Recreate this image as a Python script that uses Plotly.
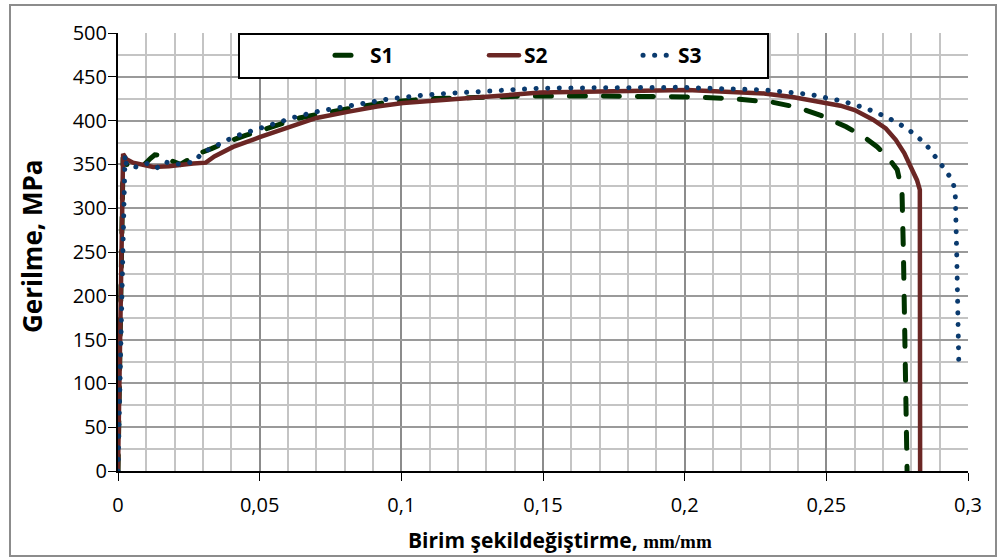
import plotly.graph_objects as go

# Stress-strain data for three tensile specimens (strain in mm/mm, stress in MPa)
s1_strain = [0, 0.0018, 0.003, 0.009, 0.0115, 0.013, 0.017, 0.019, 0.022, 0.025,
             0.029, 0.033, 0.038, 0.045, 0.049, 0.064, 0.082, 0.095, 0.11, 0.13, 0.143,
             0.17, 0.187, 0.203, 0.217, 0.231, 0.24, 0.248, 0.257, 0.263, 0.268,
             0.272, 0.275, 0.2767, 0.2772, 0.2778, 0.2782, 0.2785]
s1_stress = [0, 358, 350, 349, 357, 361, 360, 354, 350, 356,
             363, 368, 375, 383, 387, 403, 414, 421, 425, 427, 428,
             428, 428, 427, 425, 421, 415, 406, 393, 382, 370,
             357, 344, 320, 250, 150, 60, 0]

s2_strain = [0, 0.0018, 0.003, 0.0053, 0.0124, 0.018, 0.0265, 0.031, 0.034, 0.0406,
             0.05, 0.0607, 0.07, 0.081, 0.0914, 0.1006, 0.116, 0.149, 0.2008, 0.228,
             0.238, 0.245, 0.25, 0.255, 0.26, 0.2665, 0.271, 0.2745, 0.2775, 0.28,
             0.282, 0.283, 0.2831]
s2_stress = [0, 362, 356, 352, 347, 348, 351, 352, 359, 370,
             381, 393, 403, 410, 416, 420, 424, 432, 435, 431,
             427, 423, 421, 417, 412, 401, 391, 378, 363, 347,
             332, 321, 0]

s3_strain = [0, 0.0025, 0.003, 0.0066, 0.0102, 0.0137, 0.0166, 0.0195, 0.023, 0.027,
             0.0296, 0.0335, 0.037, 0.0406, 0.045, 0.0526, 0.0635, 0.0713, 0.0794, 0.0879,
             0.096, 0.1077, 0.116, 0.149, 0.17, 0.198, 0.228, 0.244, 0.256, 0.264,
             0.2714, 0.2785, 0.2849, 0.29, 0.2926, 0.2947, 0.2955, 0.296, 0.2963, 0.2966, 0.2968]
s3_stress = [0, 361, 349, 347, 351, 346, 353, 350, 351, 353,
             363, 369, 374, 381, 386, 394, 405, 411, 416, 421,
             425, 429, 431, 437, 438, 438, 435, 430, 422, 414,
             404, 391, 374, 353, 341, 330, 317, 250, 200, 150, 115]

x_ticks = [0, 0.05, 0.1, 0.15, 0.2, 0.25, 0.3]
x_tick_labels = ["0", "0,05", "0,1", "0,15", "0,2", "0,25", "0,3"]
y_ticks = [0, 50, 100, 150, 200, 250, 300, 350, 400, 450, 500]

x_title = "Birim şekildeğiştirme, <span style=\"font-family:'Liberation Serif';font-size:19px\">mm/mm</span>"
y_title = "Gerilme, MPa"

fig = go.Figure()
fig.add_trace(go.Scatter(x=s1_strain, y=s1_stress, name="S1", mode="lines",
                         line=dict(color="#003300", width=5, dash="16px,18px")))
fig.add_trace(go.Scatter(x=s2_strain, y=s2_stress, name="S2", mode="lines",
                         line=dict(color="#6B2624", width=4.5)))
fig.add_trace(go.Scatter(x=s3_strain, y=s3_stress, name="S3", mode="lines",
                         line=dict(color="#0A3A6E", width=5, dash="0.1px,11.5px")))

# plot area spans 850 x 438 px; helpers convert pixel offsets to paper units
PW, PH, L, T = 850, 438, 118, 33
def px_x(p):
    return (p - L) / PW
def px_y(p):
    return (T + PH - p) / PH

tick_font = dict(family="Open Sans", size=20, color="#000000")
fig.update_layout(
    width=1006, height=560,
    margin=dict(l=L, r=1006 - L - PW, t=T, b=560 - T - PH),
    paper_bgcolor="#FFFFFF", plot_bgcolor="#FFFFFF",
    showlegend=True,
    legend=dict(orientation="h", x=px_x(330), xanchor="left", y=px_y(55.5), yanchor="middle",
                bgcolor="rgba(0,0,0,0)", borderwidth=0,
                font=dict(family="Open Sans", size=21, color="#000000", weight="bold"),
                entrywidth=109, traceorder="normal"),
    xaxis=dict(range=[0, 0.3], tickvals=x_ticks, ticktext=x_tick_labels,
               tickfont=tick_font, ticks="outside", ticklen=8, tickcolor="#000000",
               ticklabelstandoff=7,
               showline=True, linecolor="#000000", linewidth=2,
               showgrid=True, gridcolor="#8C8C8C", gridwidth=1.5,
               minor=dict(dtick=0.01, showgrid=True, gridcolor="#C4C4C4", gridwidth=1.5),
               zeroline=False),
    yaxis=dict(range=[0, 500], tickvals=y_ticks,
               tickfont=tick_font, ticks="outside", ticklen=8, tickcolor="#000000",
               ticklabelstandoff=-3,
               showline=True, linecolor="#000000", linewidth=2,
               showgrid=True, gridcolor="#9A9A9A", gridwidth=1.5,
               minor=dict(dtick=25, showgrid=True, gridcolor="#C4C4C4", gridwidth=1.5),
               zeroline=False),
    annotations=[
        dict(text=x_title, xref="paper", yref="paper", x=px_x(560), y=px_y(540),
             xanchor="center", yanchor="middle", showarrow=False,
             font=dict(family="Open Sans", size=21, color="#000000", weight="bold")),
        dict(text=y_title, xref="paper", yref="paper", x=px_x(32), y=px_y(247),
             xanchor="center", yanchor="middle", textangle=-90, showarrow=False,
             font=dict(family="Open Sans", size=26, color="#000000", weight="bold")),
    ],
    shapes=[
        # outer chart frame
        dict(type="rect", xref="paper", yref="paper",
             x0=px_x(10), x1=px_x(996), y0=px_y(556), y1=px_y(5),
             line=dict(color="#8C8C8C", width=2), fillcolor="rgba(0,0,0,0)", layer="below"),
        # legend box
        dict(type="rect", xref="paper", yref="paper",
             x0=px_x(239), x1=px_x(768), y0=px_y(78), y1=px_y(34),
             line=dict(color="#000000", width=2), fillcolor="#FFFFFF", layer="above"),
    ],
)

# Round line caps give the dotted and dashed curves soft ends
post = """
var st = document.createElement('style');
st.textContent = '.scatterlayer .js-line, .legendlines path {stroke-linecap: round;}';
document.head.appendChild(st);
"""
fig.write_html("out.html", post_script=post)
